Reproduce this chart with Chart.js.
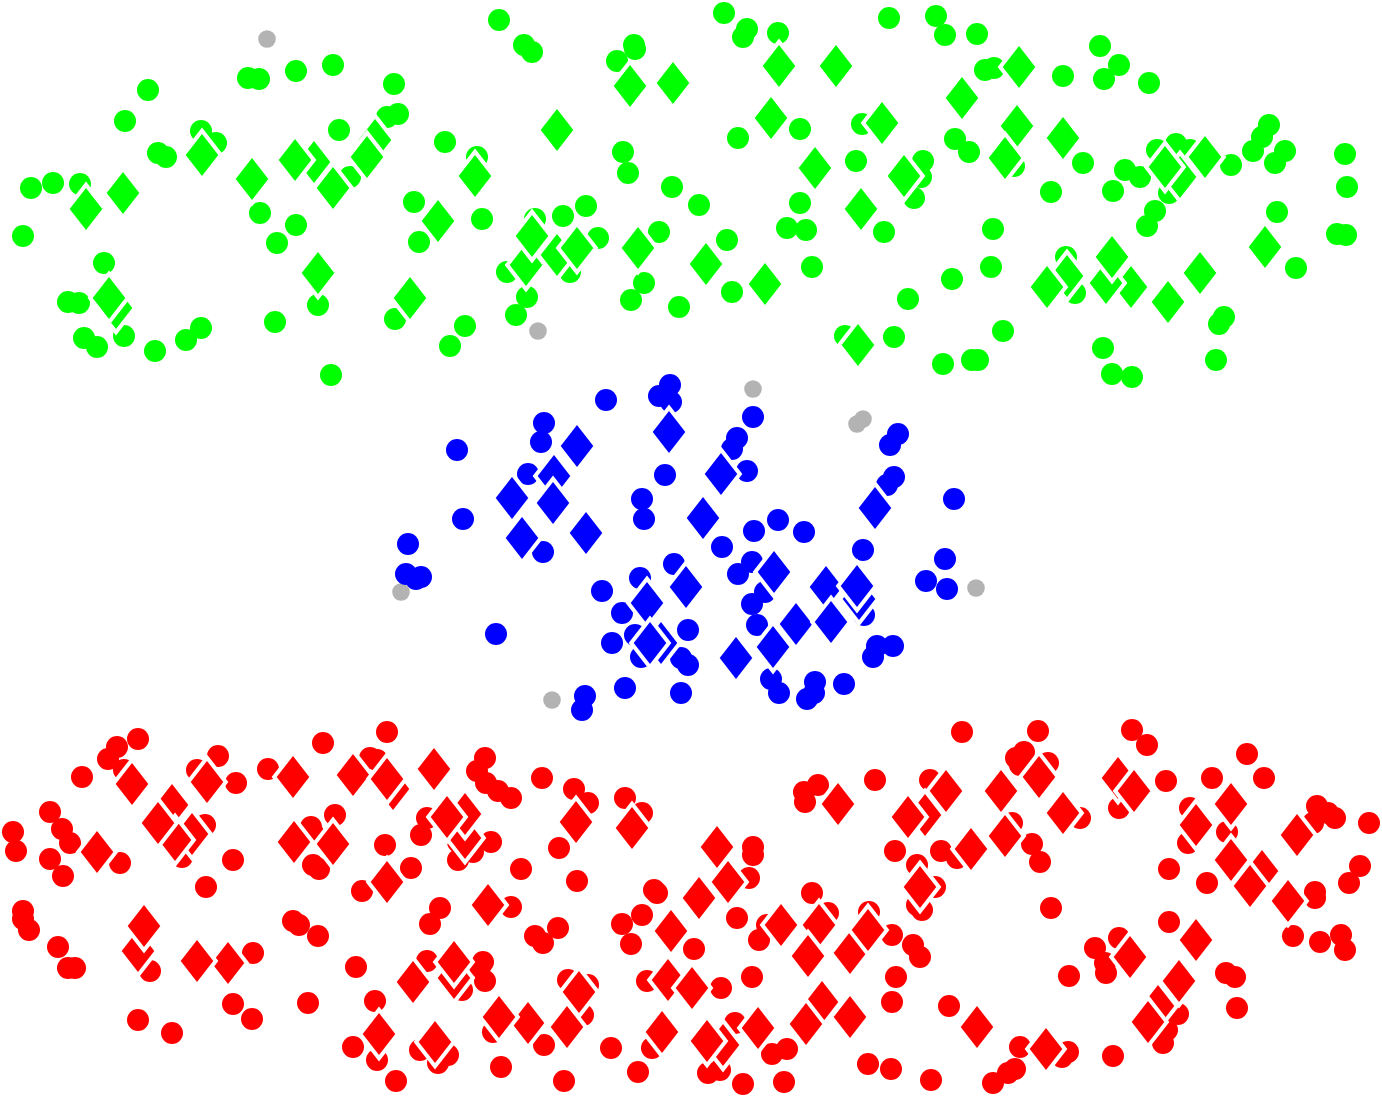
<!DOCTYPE html>
<html>
<head>
<meta charset="utf-8">
<title>Scatter</title>
<script src="https://cdn.jsdelivr.net/npm/chart.js@4/dist/chart.umd.min.js"></script>
<style>
    html, body { margin: 0; padding: 0; background: #fff; }
    canvas { display: block; }
</style>
</head>
<body>
<canvas id="grafico" width="1382" height="1097"></canvas>
<script>
// valores: [x, y]
const greenDots = [
    [148,90],[125,121],[248,78],[259,79],[296,71],[333,65],[394,84],[387,117],[398,114],[445,142],[339,130],[201,131],
    [216,143],[158,153],[166,157],[31,188],[53,183],[80,184],[23,236],[260,213],[296,225],[277,243],[414,202],[419,242],
    [350,177],[104,263],[68,302],[79,303],[84,338],[97,347],[124,336],[155,351],[186,340],[201,328],[275,322],[318,305],
    [395,319],[465,326],[450,346],[331,375],
    [499,20],[524,45],[532,52],[724,13],[747,29],[743,37],[778,33],[889,18],[634,45],[635,49],[617,61],[738,138],[800,129],
    [862,124],[623,152],[628,173],[856,161],[477,157],[482,219],[672,187],[699,205],[800,203],[787,228],[806,230],[884,232],
    [659,232],[727,240],[586,206],[563,216],[535,219],[598,238],[507,272],[570,272],[527,297],[516,315],[644,283],[631,300],
    [679,307],[732,292],[812,267],[908,299],[894,337],[845,336],[923,161],[921,177],[914,198],
    [936,16],[945,35],[977,34],[985,70],[994,68],[1063,76],[1100,46],[1119,65],[1104,79],[1149,83],[955,139],[969,152],
    [1083,163],[1014,166],[1051,192],[1125,170],[1140,177],[1113,191],[1157,150],[1176,144],[1190,150],[1231,165],[1269,125],
    [1262,137],[1253,151],[1285,151],[1275,163],[1345,154],[1347,187],[1169,193],[1155,211],[1147,226],[1277,212],[1337,234],
    [1346,235],[1296,268],[993,229],[991,267],[952,279],[1066,257],[1075,293],[1224,317],[1219,324],[1003,331],[943,364],
    [972,360],[978,360],[1103,348],[1112,374],[1132,377],[1216,360]
];
const greenDiamonds = [
    [314,162],[375,140],[116,308],[557,255],[526,265],[1131,287],[1106,283],[1067,276],[1017,126],[1180,177],
    [86,209],[123,193],[202,155],[252,179],[295,160],[333,188],[367,157],[438,221],[109,298],[318,273],[410,298],
    [557,130],[475,176],[630,86],[673,83],[779,66],[836,66],[771,118],[882,123],[815,168],[904,176],[861,209],
    [532,236],[577,248],[638,248],[706,264],[765,284],[858,345],
    [1019,67],[962,98],[1005,158],[1063,138],[1165,167],[1205,157],[1112,257],[1047,287],[1168,302],[1200,273],[1265,247]
];
const blueDots = [
    [670,385],[659,396],[671,402],[606,400],[544,423],[541,442],[457,450],[753,417],[737,438],[732,449],[747,471],[665,475],
    [528,474],[642,499],[644,519],[463,519],[898,434],[890,445],[894,477],[887,485],[954,499],[778,520],[754,531],[804,532],
    [722,547],[543,552],[863,550],[945,559],[408,544],[674,564],[752,562],[738,574],[406,574],[421,577],[416,579],[640,578],
    [602,591],[926,581],[947,589],[765,592],[752,604],[622,613],[864,615],[757,625],[688,630],[635,635],[496,634],[612,643],
    [641,657],[681,658],[688,665],[877,646],[893,646],[873,657],[625,688],[681,693],[771,679],[779,693],[815,682],[814,693],
    [807,699],[844,684],[585,696],[582,710]
];
const blueDiamonds = [
    [554,476],[826,587],[859,599],[661,643],[647,603],[796,624],
    [577,446],[669,432],[512,498],[553,503],[721,474],[703,518],[522,538],[586,533],[875,508],[774,572],[686,587],
    [857,586],[831,622],[650,643],[773,647],[736,658]
];
const redDots = [
    [138,739],[117,747],[108,759],[82,777],[124,770],[323,743],[387,732],[218,756],[197,770],[236,783],[268,769],[370,758],
    [377,760],[50,812],[13,832],[62,829],[16,851],[70,843],[50,859],[63,876],[120,863],[205,825],[182,857],[335,815],[313,833],
    [311,827],[313,865],[319,869],[233,860],[206,887],[427,818],[421,835],[385,845],[411,868],[362,891],[458,842],[458,860],
    [23,911],[23,919],[29,930],[58,947],[68,968],[75,968],[293,921],[299,925],[318,936],[440,908],[430,924],[356,967],[427,961],
    [150,971],[253,953],[233,1004],[252,1019],[308,1003],[375,1001],[138,1020],[172,1033],[353,1047],[377,1060],[396,1081],
    [420,1050],[448,1055],[438,1063],
    [485,758],[477,771],[486,783],[498,791],[511,798],[542,778],[574,789],[588,803],[625,798],[642,813],[559,848],[491,842],
    [473,852],[521,869],[577,881],[511,907],[535,936],[558,928],[543,943],[483,962],[480,967],[485,981],[462,990],[568,980],
    [588,985],[804,792],[818,785],[805,802],[875,780],[753,847],[753,855],[749,878],[654,890],[657,893],[642,915],[622,924],
    [631,944],[694,949],[737,918],[812,893],[828,913],[767,925],[759,940],[869,912],[892,935],[913,945],[920,957],[895,851],
    [917,865],[917,905],[896,977],[892,1002],[752,977],[647,981],[721,988],[735,1023],[652,1048],[611,1048],[544,1045],[501,1067],
    [493,1032],[583,1015],[564,1081],[638,1072],[708,1073],[720,1070],[743,1084],[784,1082],[772,1054],[787,1049],[868,1064],[891,1069],
    [962,732],[1038,731],[1024,752],[1016,758],[1020,765],[1048,763],[930,780],[1132,730],[1147,745],[1166,781],[1247,754],
    [1264,778],[1212,778],[1190,808],[1119,808],[1369,823],[1317,806],[1328,813],[1335,818],[1313,823],[1227,832],[1188,843],
    [1169,869],[1207,883],[1360,866],[1349,883],[1315,892],[1315,898],[1293,936],[1320,942],[1341,935],[1345,950],[1051,908],
    [941,851],[957,858],[1032,844],[1040,862],[1012,823],[1080,818],[935,887],[922,910],[1169,922],[1119,938],[1095,948],
    [1105,963],[1106,973],[1069,976],[1226,973],[1235,977],[1237,1008],[1178,1014],[1167,1030],[1163,1043],[949,1006],[1020,1047],
    [1068,1052],[1062,1057],[1113,1056],[1015,1069],[1008,1073],[993,1083],[931,1080]
];
const redDiamonds = [
    [172,805],[192,834],[175,840],[158,823],[138,951],[393,789],[228,963],[454,978],[465,838],[465,814],[723,1045],[668,980],
    [1158,1006],[1262,871],[1118,778],[925,815],[819,925],[850,953],[528,1023],[822,1002],
    [132,784],[207,782],[293,777],[353,775],[387,779],[434,769],[97,852],[294,842],[333,844],[447,817],[387,882],[144,926],
    [197,961],[413,982],[454,962],[379,1034],[435,1042],
    [576,822],[632,828],[838,804],[908,817],[717,847],[728,882],[699,898],[488,905],[671,931],[781,925],[868,930],[808,956],
    [692,988],[579,992],[499,1017],[567,1027],[662,1032],[707,1041],[758,1028],[806,1024],[850,1017],[920,887],
    [946,791],[1001,791],[1039,777],[1063,813],[1005,836],[971,849],[1134,791],[1231,804],[1196,825],[1297,835],[1231,860],
    [1250,886],[1288,901],[1130,957],[1196,940],[1179,981],[1148,1022],[977,1027],[1046,1049]
];
const grayDots = [[267,39],[538,331],[753,389],[863,419],[857,424],[976,588],[401,592],[552,700]];

function toPoints(lista) {
    return lista.map(function (p) {
        return { x: p[0], y: p[1] };
    });
}

// losango com contorno branco, o Chart.js só tem o quadrado girado
function criarLosango(cor) {
    const c = document.createElement('canvas');
    c.width = 64;
    c.height = 76;
    const ctx = c.getContext('2d');
    ctx.beginPath();
    ctx.moveTo(32, 38 - 21);
    ctx.lineTo(32 + 16.3, 38);
    ctx.lineTo(32, 38 + 21);
    ctx.lineTo(32 - 16.3, 38);
    ctx.closePath();
    ctx.lineJoin = 'miter';
    ctx.miterLimit = 10;
    ctx.lineWidth = 8;
    ctx.strokeStyle = '#ffffff';
    ctx.stroke();
    ctx.fillStyle = cor;
    ctx.fill();
    return c;
}

function serieBolas(nome, lista, cor, raio) {
    return {
        label: nome,
        data: toPoints(lista),
        order: 2,
        pointStyle: 'circle',
        pointRadius: raio,
        pointBorderWidth: 0,
        pointBackgroundColor: cor
    };
}

function serieLosangos(nome, lista, cor) {
    return {
        label: nome,
        data: toPoints(lista),
        order: 1,
        pointStyle: criarLosango(cor)
    };
}

new Chart(document.getElementById('grafico'), {
    type: 'scatter',
    data: {
        datasets: [
            serieLosangos('verde losango', greenDiamonds, '#00ff00'),
            serieLosangos('azul losango', blueDiamonds, '#0000ff'),
            serieLosangos('vermelho losango', redDiamonds, '#ff0000'),
            serieBolas('verde', greenDots, '#00ff00', 11),
            serieBolas('azul', blueDots, '#0000ff', 11),
            serieBolas('vermelho', redDots, '#ff0000', 11),
            serieBolas('cinza', grayDots, '#b3b3b3', 8.8)
        ]
    },
    options: {
        responsive: false,
        animation: false,
        layout: { padding: 0, autoPadding: false },
        scales: {
            x: { display: false, min: 0, max: 1382 },
            y: { display: false, min: 0, max: 1097, reverse: true }
        },
        plugins: {
            legend: { display: false },
            tooltip: { enabled: false }
        }
    }
});
</script>
</body>
</html>
